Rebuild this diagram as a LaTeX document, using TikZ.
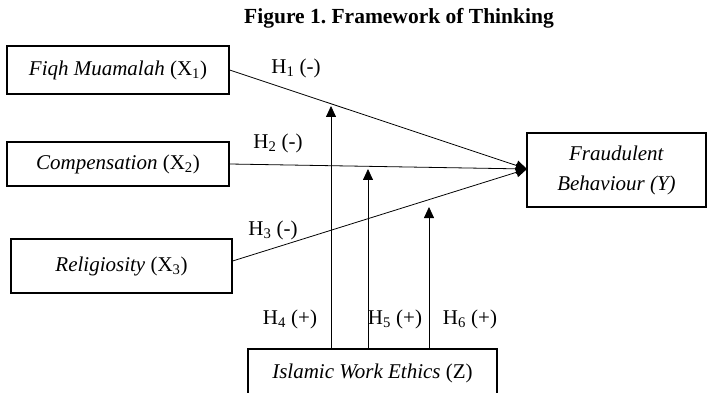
\documentclass[tikz,border=0pt]{standalone}
\usepackage{fontspec}
\setmainfont{Liberation Serif}
\usetikzlibrary{arrows.meta}
\frenchspacing
\tikzset{
  varbox/.style={draw, line width=1.2pt, inner sep=0pt, align=center, font=\fontsize{21}{30}\selectfont},
  lab/.style={inner sep=0pt, font=\fontsize{21}{25}\selectfont},
  link/.style={line width=0.8pt, -{Triangle[length=11pt,width=10pt]}},
}
\newcommand{\sbs}[1]{\textsubscript{#1}}
\begin{document}
\begin{tikzpicture}[x=1pt,y=-1pt]
\clip (0,0) rectangle (707,393);
\useasboundingbox (0,0) rectangle (707,393);
\node[inner sep=0pt, font=\fontsize{21.5}{25}\selectfont\bfseries] (title) at (399,18) {Figure 1. Framework of Thinking};
\node[varbox, minimum width=222pt, minimum height=48pt] (X1) at (118,70) {\textit{Fiqh Muamalah} (X\sbs{1})};
\node[varbox, minimum width=222pt, minimum height=44pt] (X2) at (118,164) {\textit{Compensation} (X\sbs{2})};
\node[varbox, minimum width=221pt, minimum height=54pt] (X3) at (121.5,266) {\textit{Religiosity} (X\sbs{3})};
\node[varbox, minimum width=179pt, minimum height=74pt] (Y) at (616.5,170) {\textit{Fraudulent}\\\textit{Behaviour (Y)}};
\node[varbox, minimum width=249pt, minimum height=48pt] (Z) at (372.5,373) {\textit{Islamic Work Ethics} (Z)};
\coordinate (tip) at (527,169);
\draw[link] (X1.east) -- (tip);
\draw[link] (X2.east) -- (tip);
\draw[link] ([yshift=5pt]X3.east) -- (tip);
\coordinate (t1) at (331,106);
\coordinate (t2) at (368,169);
\coordinate (t3) at (429,207);
\draw[link] (t1 |- Z.north) -- (t1);
\draw[link] (t2 |- Z.north) -- (t2);
\draw[link] (t3 |- Z.north) -- (t3);
\node[lab] (h1) at (296,68) {H\sbs{1} (-)};
\node[lab] (h2) at (278,143) {H\sbs{2} (-)};
\node[lab] (h3) at (273,230) {H\sbs{3} (-)};
\node[lab] (h4) at (290,319) {H\sbs{4} (+)};
\node[lab] (h5) at (395,319) {H\sbs{5} (+)};
\node[lab] (h6) at (470,319) {H\sbs{6} (+)};
\end{tikzpicture}
\end{document}
